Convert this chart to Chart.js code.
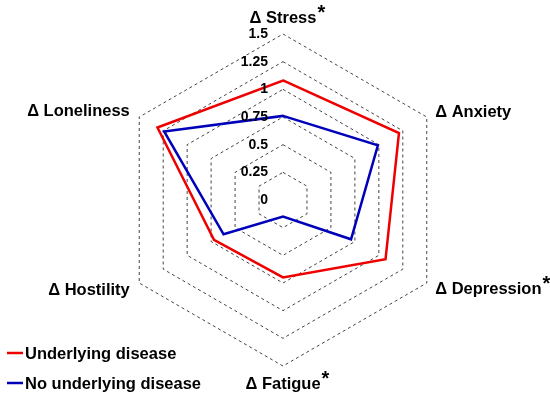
<!DOCTYPE html>
<html>
<head>
<meta charset="utf-8">
<script src="https://cdn.jsdelivr.net/npm/chart.js@4/dist/chart.umd.min.js"></script>
<style>
  html, body { margin: 0; padding: 0; background: #fff; }
  #wrap { width: 550px; height: 399px; position: relative; }
</style>
</head>
<body>
<div id="wrap"><canvas id="radar"></canvas></div>
<script>
/* --- Data --- */
var AXES = ["Δ Stress", "Δ Anxiety", "Δ Depression", "Δ Fatigue", "Δ Hostility", "Δ Loneliness"];
var STARRED = [true, false, true, true, false, false];
var UNDERLYING = [1.08, 1.21, 1.07, 0.70, 0.72, 1.31];
var NO_UNDERLYING = [0.76, 0.99, 0.71, 0.15, 0.62, 1.24];
var SCALE_MIN = 0;
var SCALE_MAX = 1.5;
var SCALE_STEP = 0.25;

var FONT = '"Liberation Sans", Arial, Helvetica, sans-serif';

/* --- Custom text: axis titles, tick values, legend --- */
var textPlugin = {
  id: "radarText",
  afterDraw: function (chart) {
    var ctx = chart.ctx;
    var r = chart.scales.r;
    var R = r.drawingArea;
    ctx.save();
    ctx.fillStyle = "#000";

    /* tick values, right aligned left of the top spoke */
    ctx.font = "bold 14px " + FONT;
    ctx.textAlign = "right";
    ctx.textBaseline = "middle";
    r.ticks.forEach(function (t) {
      var d = r.getDistanceFromCenterForValue(t.value);
      ctx.fillText(t.label, r.xCenter - 15, r.yCenter - d);
    });

    /* axis titles */
    var place = [
      { dist: 16, dx: 0, dy: 0, align: "center" },
      { dist: 4, dx: 5, dy: -3, align: "left" },
      { dist: 4, dx: 5, dy: 4, align: "left" },
      { dist: 18, dx: 0, dy: 0, align: "center" },
      { dist: 4, dx: -6, dy: 5, align: "right" },
      { dist: 4, dx: -6, dy: -4, align: "right" },
    ];
    AXES.forEach(function (name, i) {
      ctx.font = "bold 16.5px " + FONT;
      var p = r.getPointPosition(i, R + place[i].dist);
      var x = p.x + place[i].dx;
      var y = p.y + place[i].dy;
      var w = ctx.measureText(name).width;
      var left = place[i].align === "center" ? x - w / 2 :
        place[i].align === "right" ? x - w : x;
      ctx.textAlign = "left";
      ctx.textBaseline = "middle";
      ctx.fillText(name, left, y);
      if (STARRED[i]) {
        ctx.font = "bold 20px " + FONT;
        ctx.fillText("*", left + w + 1, y - 5);
      }
    });

    /* legend, bottom left */
    ctx.font = "bold 16.5px " + FONT;
    ctx.textAlign = "left";
    ctx.textBaseline = "middle";
    chart.data.datasets.forEach(function (ds, i) {
      var y = 353 + i * 30;
      ctx.strokeStyle = ds.borderColor;
      ctx.lineWidth = 2.5;
      ctx.beginPath();
      ctx.moveTo(7, y);
      ctx.lineTo(23, y);
      ctx.stroke();
      ctx.fillText(ds.label, 25, y + 1);
    });
    ctx.restore();
  },
};

/* --- Chart --- */
new Chart(document.getElementById("radar"), {
  type: "radar",
  data: {
    labels: AXES,
    datasets: [
      {
        label: "Underlying disease",
        data: UNDERLYING,
        borderColor: "#ee0000",
        backgroundColor: "rgba(0,0,0,0)",
        borderWidth: 2.5,
        pointRadius: 0,
        fill: false,
      },
      {
        label: "No underlying disease",
        data: NO_UNDERLYING,
        borderColor: "#0000bb",
        backgroundColor: "rgba(0,0,0,0)",
        borderWidth: 2.5,
        pointRadius: 0,
        fill: false,
      },
    ],
  },
  options: {
    responsive: true,
    maintainAspectRatio: false,
    animation: false,
    layout: { padding: { top: 34, bottom: 33, left: 117, right: 101 } },
    plugins: {
      legend: { display: false },
      tooltip: { enabled: false },
    },
    elements: { line: { tension: 0 } },
    scales: {
      r: {
        min: SCALE_MIN,
        max: SCALE_MAX,
        beginAtZero: true,
        angleLines: { display: false },
        grid: { color: "#444", lineWidth: 1, borderDash: [3, 3] },
        border: { dash: [3, 3] },
        pointLabels: { display: false },
        ticks: {
          display: false,
          stepSize: SCALE_STEP,
          callback: function (v) {
            return String(Math.round(v * 100) / 100);
          },
        },
      },
    },
  },
  plugins: [textPlugin],
});
</script>
</body>
</html>
